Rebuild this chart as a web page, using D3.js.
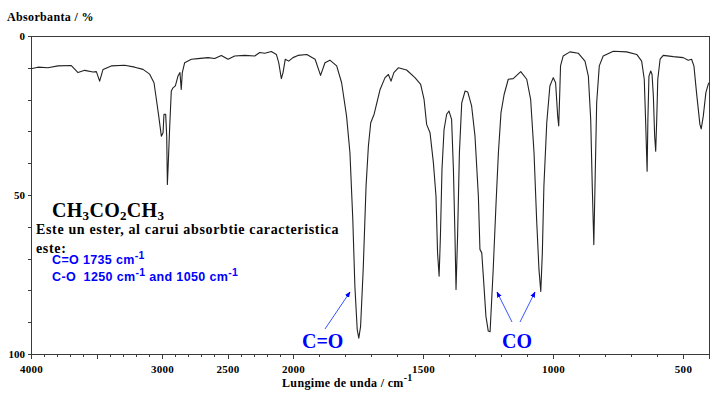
<!DOCTYPE html>
<html><head><meta charset="utf-8">
<script src="https://cdn.jsdelivr.net/npm/d3@7"></script>
<style>
html,body{margin:0;padding:0;background:#fff;}
svg{display:block;}
.serif{font-family:"Liberation Serif","Times New Roman",serif;font-weight:bold;}
.sans{font-family:"Liberation Sans",Arial,sans-serif;}
</style>
</head><body>
<svg id="chart" width="728" height="396"></svg>
<script>
// Wavenumbers (cm^-1) and absorbance (%)
const wavenumbers = [4000,3947,3870,3794,3692,3641,3590,3527,3501,3476,3450,3387,3285,3208,3145,3094,3061,3043,3025,3005,2992,2985,2972,2964,2959,2952,2941,2929,2916,2898,2878,2863,2853,2845,2827,2776,2725,2649,2598,2547,2496,2445,2369,2292,2254,2216,2165,2127,2109,2089,2076,2059,2033,2000,1981,1947,1915,1894,1877,1858,1832,1813,1794,1781,1770,1762,1753,1747,1740,1730,1719,1710,1701,1688,1665,1646,1633,1623,1612,1595,1563,1531,1509,1496,1486,1473,1460,1450,1444,1438,1433,1427,1419,1409,1400,1390,1383,1377,1373,1367,1360,1351,1338,1328,1313,1300,1287,1281,1274,1268,1258,1249,1242,1230,1219,1210,1200,1188,1172,1153,1124,1101,1086,1073,1063,1054,1047,1041,1035,1024,1012,999,990,982,978,974,971,961,935,903,877,864,855,849,843,838,832,822,807,768,717,678,659,649,644,638,635,631,624,619,614,609,605,601,597,588,576,537,499,480,467,458,448,435,430,422,412,403,400];
const absorbance = [10.3,9.8,10.0,9.4,9.3,11.5,10.8,11.3,11.2,14.2,10.5,9.4,9.2,9.8,10.5,12.0,14.7,19.9,25.2,31.5,30.4,24.6,24.6,31.5,46.7,39.9,28.3,17.3,16.3,15.7,12.6,11.5,16.8,11.5,8.4,7.3,7.1,6.8,7.1,6.1,7.3,6.3,6.1,6.3,5.2,5.4,4.9,5.8,8.4,13.4,11.5,7.3,7.9,6.8,6.1,5.8,7.3,12.4,8.4,7.6,9.4,14.7,25.2,36.7,57.7,78.7,92.3,95.0,91.3,73.4,47.2,34.6,27.3,24.6,16.8,13.1,12.1,14.2,11.5,10.0,10.7,13.1,15.2,19.9,27.8,30.4,39.9,50.4,68.2,75.5,63.0,42.0,29.4,24.6,23.6,26.2,42.0,63.0,79.7,63.0,36.7,21.0,17.3,17.6,22.0,31.5,50.4,67.1,68.2,75.5,88.1,92.8,93.0,73.4,52.5,36.7,24.1,18.4,13.6,13.4,11.2,13.6,19.9,36.7,57.7,73.4,80.3,68.2,47.2,27.3,15.7,13.1,14.7,25.2,28.3,17.8,9.4,6.3,5.0,5.4,7.9,12.6,26.2,47.2,65.6,45.1,21.0,9.4,6.3,4.8,5.0,5.8,7.9,13.6,26.2,42.5,26.2,12.6,11.0,12.1,18.9,31.5,36.2,26.2,13.6,7.3,6.1,6.5,6.8,7.6,7.3,9.4,17.8,27.8,29.2,25.2,17.8,15.2,14.7];

const xMajorTicks = [4000,3500,3000,2500,2000,1500,1000,500];
const xTickLabels = ["4000","","3000","2500","2000","1500","1000","500"];
const xMinorTicks = d3.range(4000, 499, -100);
const yTicks = d3.range(0, 101, 10);
const yTickLabels = {0:"0",50:"50",100:"100"};

const yAxisTitle = "Absorbanta / %";
const xAxisTitle = "Lungime de unda / cm";
const noteLine1 = "Este un ester, al carui absorbtie caracteristica";
const noteLine2 = "este:";

const svg = d3.select("#chart");
const x = d3.scaleLinear().domain([4000, 2000, 400]).range([31, 293, 709]);
const y = d3.scaleLinear().domain([0, 100]).range([36, 354]);

const frameColor = "#3a3a3a";

// frame
svg.append("rect").attr("x", 31).attr("y", 36).attr("width", 709-31).attr("height", 354-36)
  .attr("fill", "none").attr("stroke", frameColor).attr("stroke-width", 1)
  .attr("shape-rendering","crispEdges");

// x axis: minor
const gxMinor = svg.append("g").attr("transform", "translate(0,354)")
  .call(d3.axisBottom(x).tickValues(xMinorTicks).tickSize(3).tickFormat(""));
// x axis: major
const gx = svg.append("g").attr("transform", "translate(0,354)")
  .call(d3.axisBottom(x).tickValues(xMajorTicks).tickSize(5).tickPadding(6)
        .tickFormat((d,i) => xTickLabels[i]));
[gxMinor, gx].forEach(g => {
  g.select(".domain").attr("stroke", frameColor);
  g.selectAll(".tick line").attr("stroke", frameColor).attr("shape-rendering","crispEdges");
});
gx.selectAll(".tick text").attr("font-size", 11).attr("fill", "#000")
  .attr("font-family", "Liberation Serif").attr("font-weight","bold").attr("letter-spacing", 0.3);

// y axis
const gy = svg.append("g").attr("transform", "translate(31,0)")
  .call(d3.axisLeft(y).tickValues(yTicks).tickSize(3).tickPadding(3)
        .tickFormat(d => yTickLabels[d] || ""));
gy.select(".domain").attr("stroke", frameColor);
gy.selectAll(".tick line").attr("stroke", frameColor).attr("shape-rendering","crispEdges");
gy.selectAll(".tick text").attr("font-size", 11).attr("fill","#000")
  .attr("font-family", "Liberation Serif").attr("font-weight","bold");

// spectrum
const pts = wavenumbers.map((w,i) => [w, absorbance[i]]);
svg.append("path").datum(pts)
  .attr("d", d3.line().x(d => x(d[0])).y(d => y(d[1])))
  .attr("fill","none").attr("stroke","#222").attr("stroke-width",1.1).attr("stroke-linejoin","round");

// titles
svg.append("text").attr("class","serif").attr("x", 7).attr("y", 21).attr("font-size", 12)
  .attr("letter-spacing", 0.35).attr("fill","#000").text(yAxisTitle);
const xt = svg.append("text").attr("class","serif").attr("x", 282).attr("y", 387).attr("font-size", 12)
  .attr("letter-spacing", 0.35).attr("fill","#000");
xt.append("tspan").text(xAxisTitle);
xt.append("tspan").attr("dy", -6).attr("font-size", 10).text("-1");

// formula
const f = svg.append("text").attr("class","serif").attr("x", 52).attr("y", 217).attr("font-size", 20)
  .attr("letter-spacing", 0.3).attr("fill","#000");
[["CH",""],["3","sub"],["CO",""],["2","sub"],["CH",""],["3","sub"]].forEach(([t,k],i,arr) => {
  const prev = i>0 ? arr[i-1][1] : "";
  let dy = 0;
  if (k==="sub" && prev!=="sub") dy = 3;
  if (k!=="sub" && prev==="sub") dy = -3;
  const ts = f.append("tspan").text(t).attr("dy", dy);
  if (k==="sub") ts.attr("font-size", 13);
});

svg.append("text").attr("class","serif").attr("x", 36).attr("y", 234).attr("font-size", 14)
  .attr("letter-spacing", 0.65).attr("fill","#000").text(noteLine1);
svg.append("text").attr("class","serif").attr("x", 36).attr("y", 253).attr("font-size", 14)
  .attr("letter-spacing", 0.65).attr("fill","#000").text(noteLine2);

const blue = "#0000ff";
function blueLine(parts, xx, yy) {
  const t = svg.append("text").attr("class","sans").attr("x", xx).attr("y", yy)
    .attr("font-size", 12.5).attr("font-weight","bold").attr("letter-spacing", 0.35).attr("fill", blue);
  let raised = false;
  parts.forEach(([s, sup]) => {
    const ts = t.append("tspan").text(s);
    if (sup && !raised) { ts.attr("dy", -5).attr("font-size", 10.5); raised = true; }
    else if (sup) { ts.attr("font-size", 10.5); }
    else if (raised) { ts.attr("dy", 5); raised = false; }
  });
}
blueLine([["C=O 1735 cm",0],["-1",1]], 52, 264);
blueLine([["C-O\u00a0 1250 cm",0],["-1",1],[" and 1050 cm",0],["-1",1]], 52, 281);

// big labels
svg.append("text").attr("class","serif").attr("x", 302).attr("y", 348).attr("font-size", 20)
  .attr("fill", blue).text("C=O");
svg.append("text").attr("class","serif").attr("x", 502).attr("y", 348).attr("font-size", 20)
  .attr("fill", blue).text("CO");

// arrows
const defs = svg.append("defs");
defs.append("marker").attr("id","ah").attr("viewBox","0 0 10 10").attr("refX",9).attr("refY",5)
  .attr("markerWidth",6).attr("markerHeight",6).attr("orient","auto")
  .append("path").attr("d","M0,1 L10,5 L0,9 Z").attr("fill", blue);
const arrows = [[325,329,350,292],[512,322,497,292],[520,322,535,292]];
arrows.forEach(a => svg.append("line").attr("x1",a[0]).attr("y1",a[1]).attr("x2",a[2]).attr("y2",a[3])
  .attr("stroke","#3355ff").attr("stroke-width",1).attr("marker-end","url(#ah)"));
</script>
</body></html>
